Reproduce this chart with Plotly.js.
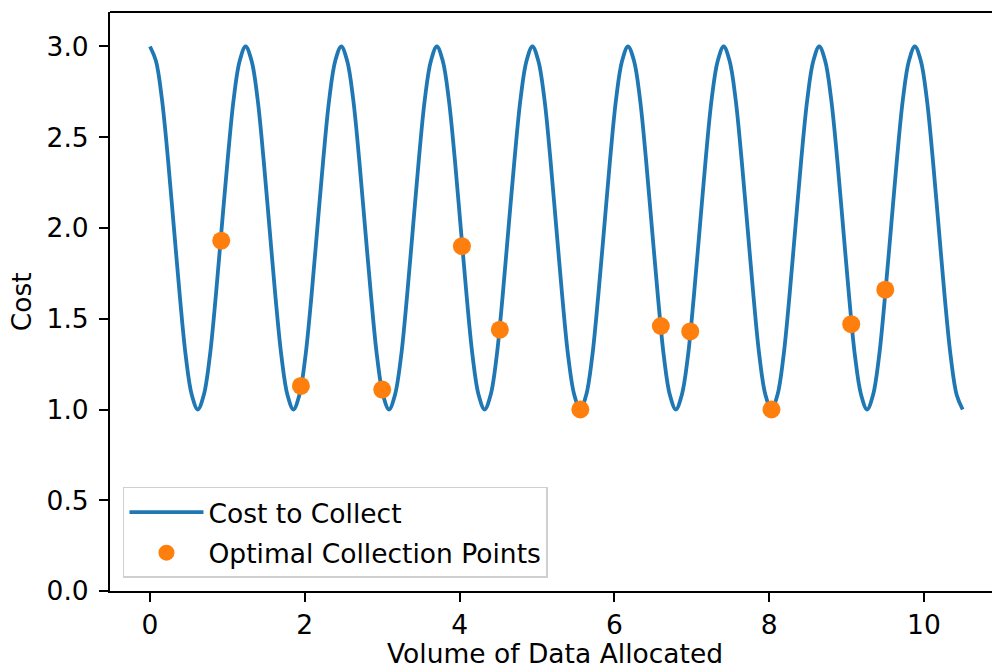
<!DOCTYPE html>
<html>
<head>
<meta charset="utf-8">
<script src="https://cdn.plot.ly/plotly-3.0.1.min.js"></script>
<style>
  html, body { margin: 0; padding: 0; background: #fff; }
  #chart { width: 992px; height: 668px; }
</style>
</head>
<body>
<div id="chart"></div>
<script>
// Cost curve: values read at 1/16-period steps from the picture
const costX = [0.000, 0.077, 0.154, 0.232, 0.309, 0.386, 0.463, 0.540, 0.618, 0.695, 0.772, 0.849,
  0.926, 1.004, 1.081, 1.158, 1.235, 1.313, 1.390, 1.467, 1.544, 1.621, 1.699, 1.776,
  1.853, 1.930, 2.007, 2.085, 2.162, 2.239, 2.316, 2.393, 2.471, 2.548, 2.625, 2.702,
  2.779, 2.857, 2.934, 3.011, 3.088, 3.165, 3.243, 3.320, 3.397, 3.474, 3.551, 3.629,
  3.706, 3.783, 3.860, 3.938, 4.015, 4.092, 4.169, 4.246, 4.324, 4.401, 4.478, 4.555,
  4.632, 4.710, 4.787, 4.864, 4.941, 5.018, 5.096, 5.173, 5.250, 5.327, 5.404, 5.482,
  5.559, 5.636, 5.713, 5.790, 5.868, 5.945, 6.022, 6.099, 6.176, 6.254, 6.331, 6.408,
  6.485, 6.563, 6.640, 6.717, 6.794, 6.871, 6.949, 7.026, 7.103, 7.180, 7.257, 7.335,
  7.412, 7.489, 7.566, 7.643, 7.721, 7.798, 7.875, 7.952, 8.029, 8.107, 8.184, 8.261,
  8.338, 8.415, 8.493, 8.570, 8.647, 8.724, 8.801, 8.879, 8.956, 9.033, 9.110, 9.188,
  9.265, 9.342, 9.419, 9.496, 9.574, 9.651, 9.728, 9.805, 9.882, 9.960, 10.037, 10.114,
  10.191, 10.268, 10.346, 10.423, 10.500];
const costY = [
  3.00, 2.92, 2.71, 2.38, 2.00, 1.62, 1.29, 1.08, 1.00, 1.08, 1.29, 1.62, 2.00, 2.38, 2.71, 2.92,
  3.00, 2.92, 2.71, 2.38, 2.00, 1.62, 1.29, 1.08, 1.00, 1.08, 1.29, 1.62, 2.00, 2.38, 2.71, 2.92,
  3.00, 2.92, 2.71, 2.38, 2.00, 1.62, 1.29, 1.08, 1.00, 1.08, 1.29, 1.62, 2.00, 2.38, 2.71, 2.92,
  3.00, 2.92, 2.71, 2.38, 2.00, 1.62, 1.29, 1.08, 1.00, 1.08, 1.29, 1.62, 2.00, 2.38, 2.71, 2.92,
  3.00, 2.92, 2.71, 2.38, 2.00, 1.62, 1.29, 1.08, 1.00, 1.08, 1.29, 1.62, 2.00, 2.38, 2.71, 2.92,
  3.00, 2.92, 2.71, 2.38, 2.00, 1.62, 1.29, 1.08, 1.00, 1.08, 1.29, 1.62, 2.00, 2.38, 2.71, 2.92,
  3.00, 2.92, 2.71, 2.38, 2.00, 1.62, 1.29, 1.08, 1.00, 1.08, 1.29, 1.62, 2.00, 2.38, 2.71, 2.92,
  3.00, 2.92, 2.71, 2.38, 2.00, 1.62, 1.29, 1.08, 1.00, 1.08, 1.29, 1.62, 2.00, 2.38, 2.71, 2.92,
  3.00, 2.92, 2.71, 2.38, 2.00, 1.62, 1.29, 1.08, 1.00];

// Optimal collection points
const optX = [0.92, 1.95, 3.00, 4.03, 4.52, 5.56, 6.60, 6.98, 8.03, 9.06, 9.50];
const optY = [1.93, 1.13, 1.11, 1.90, 1.44, 1.00, 1.46, 1.43, 1.00, 1.47, 1.66];

const seriesNames = ['Cost to Collect', 'Optimal Collection Points'];
const xTicks = [0, 2, 4, 6, 8, 10];
const yTicks = [0.0, 0.5, 1.0, 1.5, 2.0, 2.5, 3.0];
const xTitle = 'Volume of Data Allocated';
const yTitle = 'Cost';

const FONT = 'DejaVu Sans, sans-serif';
const FS = 26.5;

const traces = [
  {
    x: costX, y: costY, type: 'scatter', mode: 'lines', name: seriesNames[0],
    line: { color: '#1f77b4', width: 3.8, shape: 'spline', smoothing: 1 },
    legendgroup: 'a'
  },
  {
    x: optX, y: optY, type: 'scatter', mode: 'markers', name: seriesNames[1],
    marker: { color: '#ff7f0e', size: 18 },
    legendgroup: 'b'
  }
];

const layout = {
  width: 992, height: 668,
  margin: { l: 110, r: 0, t: 12, b: 77 },
  paper_bgcolor: '#ffffff', plot_bgcolor: '#ffffff',
  font: { family: FONT, size: FS, color: '#000' },
  showlegend: true,
  legend: {
    x: 0.0147, y: 0.0225, xanchor: 'left', yanchor: 'bottom',
    bgcolor: 'rgba(255,255,255,0.8)', bordercolor: '#d0d0d0', borderwidth: 1.5,
    font: { family: FONT, size: FS, color: '#000' },
    traceorder: 'grouped', tracegroupgap: 3, itemwidth: 74
  },
  xaxis: {
    range: [-0.517, 10.879], tickvals: xTicks, ticktext: xTicks.map(String),
    ticks: 'outside', ticklen: 9, tickwidth: 2, tickcolor: '#000',
    showline: true, linecolor: '#000', linewidth: 2,
    showgrid: false, zeroline: false,
    tickfont: { family: FONT, size: FS, color: '#000' }
  },
  yaxis: {
    range: [0, 3.19], tickvals: yTicks, ticktext: yTicks.map(v => v.toFixed(1)),
    ticks: 'outside', ticklen: 9, tickwidth: 2, tickcolor: '#000',
    showline: true, linecolor: '#000', linewidth: 2,
    showgrid: false, zeroline: false, ticklabelstandoff: 5,
    tickfont: { family: FONT, size: FS, color: '#000' }
  },
  shapes: [
    { type: 'line', xref: 'paper', yref: 'paper', x0: 0, x1: 1, y0: 1, y1: 1,
      line: { color: '#000', width: 2 } }
  ],
  annotations: [
    { text: xTitle, xref: 'paper', yref: 'paper', x: 0.504, y: -0.108,
      xanchor: 'center', yanchor: 'middle', showarrow: false,
      font: { family: FONT, size: FS, color: '#000' } },
    { text: yTitle, xref: 'paper', yref: 'paper', x: -0.1, y: 0.5,
      xanchor: 'center', yanchor: 'middle', showarrow: false, textangle: -90,
      font: { family: FONT, size: FS, color: '#000' } }
  ]
};

Plotly.newPlot('chart', traces, layout, { staticPlot: true, displayModeBar: false });
</script>
</body>
</html>
